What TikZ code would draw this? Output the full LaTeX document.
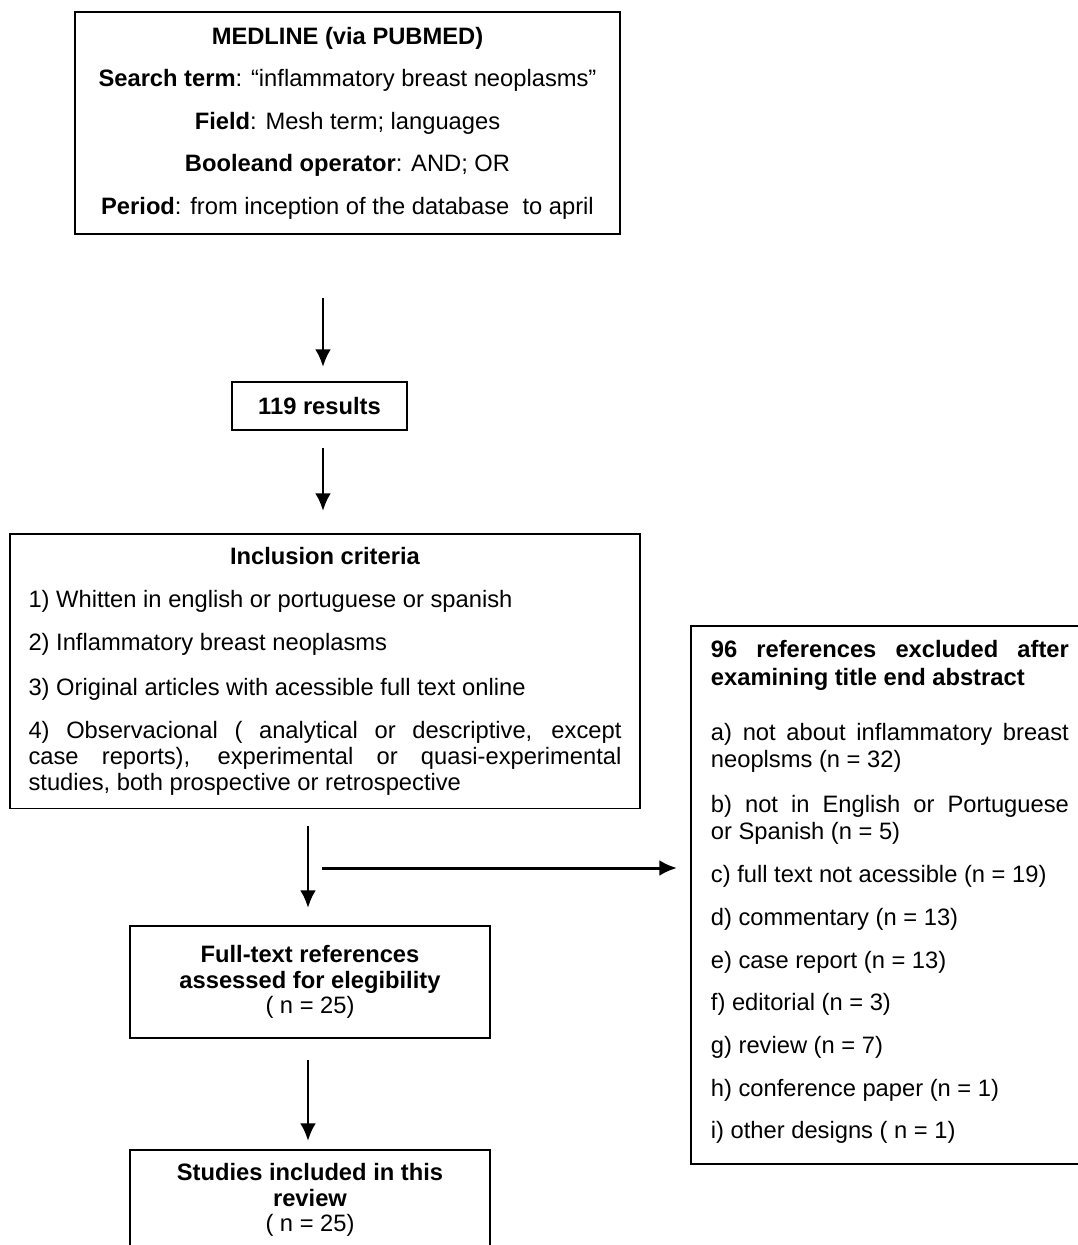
\documentclass[tikz,border=0pt]{standalone}
\usepackage{fontspec}
\setmainfont{Liberation Sans}
\usepackage{tikz}
\usetikzlibrary{arrows.meta}
\setlength{\parindent}{0pt}

\begin{document}
\begin{tikzpicture}[x=0.02cm, y=-0.02cm, >={Latex[length=10pt, width=9pt]},
    box/.style={draw, line width=1.1pt, inner sep=0pt, font=\fontsize{13.5}{14.7}\selectfont},
    flow/.style={->, line width=1.7pt}]
    \useasboundingbox (0, 0) rectangle (1078, 1245);
    \clip (0, 0) rectangle (1078, 1245);

    \node[box, minimum width=10.9cm, minimum height=4.44cm, align=center] at (347.5, 123) (medline)
        {\textbf{MEDLINE (via PUBMED)}\\[9.5pt]
         \textbf{Search term}: ``inflammatory breast neoplasms''\\[9.5pt]
         \textbf{Field}: Mesh term; languages\\[9.5pt]
         \textbf{Booleand operator}: AND; OR\\[9.5pt]
         \textbf{Period}: from inception of the database\ \ to april};
    \node[box, minimum width=3.5cm, minimum height=0.96cm] at (319.5, 406) (results) {\textbf{119 results}};
    \node[box, minimum height=5.5cm, inner xsep=0.37cm, text width=11.86cm, align=justify] at (325, 671) (incl)
        {\centerline{\textbf{Inclusion criteria}}\par\vspace{10pt}
         1) Whitten in english or portuguese or spanish\par\vspace{10pt}
         2) Inflammatory breast neoplasms\par\vspace{10.5pt}
         3) Original articles with acessible full text online\par\vspace{10pt}
         4) Observacional ( analytical or descriptive, except\linebreak
         case reports), experimental or quasi-experimental\linebreak
         studies, both prospective or retrospective};
    \node[box, minimum width=7.2cm, minimum height=2.24cm, align=center] at (310, 982) (fulltext)
        {\textbf{Full-text references}\\ \textbf{assessed for elegibility}\\ ( n = 25)};
    \node[box, minimum width=7.2cm, minimum height=2cm, align=center] at (310, 1200) (studies)
        {\textbf{Studies included in this}\\ \textbf{review}\\ ( n = 25)};
    \node[box, font=\fontsize{13.5}{15.5}\selectfont, anchor=north west, minimum height=10.76cm, inner xsep=0.4cm, text width=7.16cm, align=justify] at (690, 625) (excl)
        {\textbf{96 references excluded after\linebreak examining title end abstract}\par\vspace{16pt}
         a) not about inflammatory breast\linebreak neoplsms (n = 32)\par\vspace{10pt}
         b) not in English or Portuguese\linebreak or Spanish (n = 5)\par\vspace{9pt}
         c) full text not acessible (n = 19)\par\vspace{8.8pt}
         d) commentary (n = 13)\par\vspace{8.8pt}
         e) case report (n = 13)\par\vspace{8.8pt}
         f) editorial (n = 3)\par\vspace{8.8pt}
         g) review (n = 7)\par\vspace{8.8pt}
         h) conference paper (n = 1)\par\vspace{8.8pt}
         i) other designs ( n = 1)\par\vspace{3pt}\hrule height 0pt};

    \coordinate (a1) at (323, 298);
    \coordinate (b1) at (323, 367);
    \coordinate (a2) at (323, 448);
    \coordinate (b2) at (323, 511);
    \coordinate (a3) at (308, 826);
    \coordinate (b3) at (308, 908);
    \coordinate (a4) at (322, 868);
    \coordinate (b4) at (677, 868);
    \coordinate (a5) at (308, 1060);
    \coordinate (b5) at (308, 1141);

    \draw[flow] (a1) -- (b1);
    \draw[flow] (a2) -- (b2);
    \draw[flow] (a3) -- (b3);
    \draw[flow] (a4) -- (b4);
    \draw[flow] (a5) -- (b5);
\end{tikzpicture}
\end{document}
